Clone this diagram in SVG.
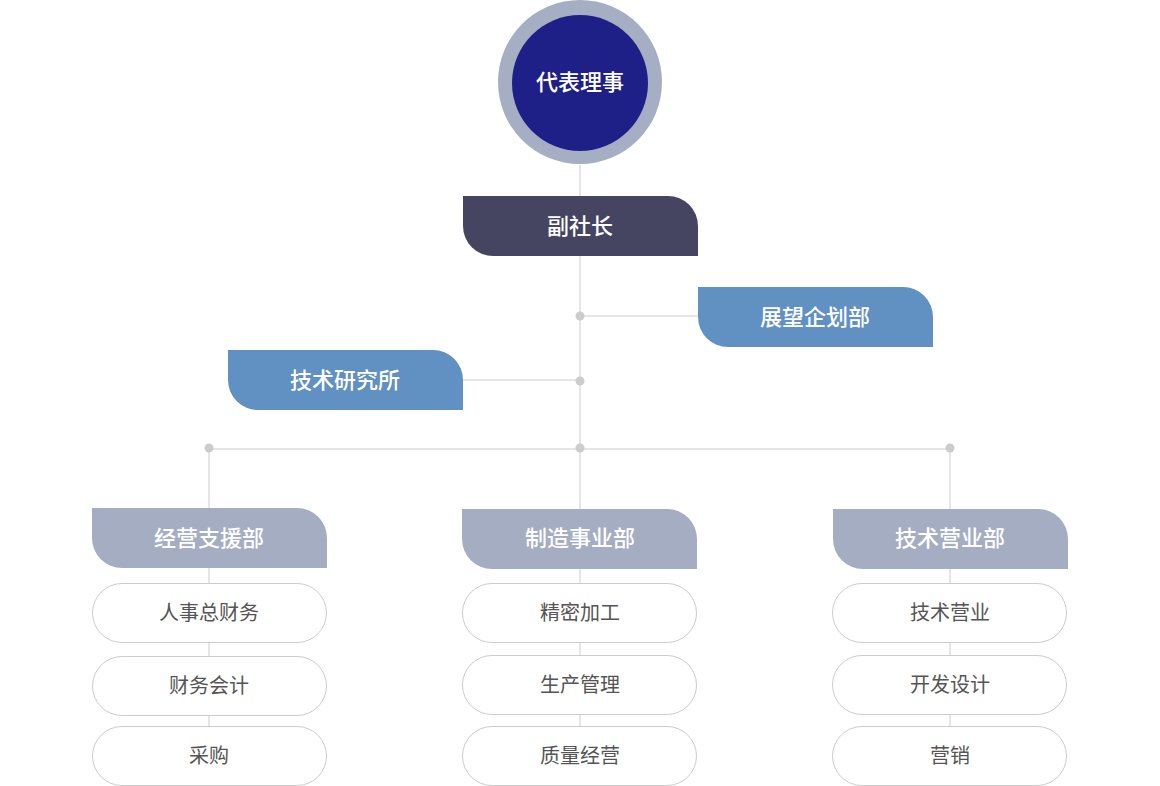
<svg xmlns="http://www.w3.org/2000/svg" width="1160" height="786" viewBox="0 0 1160 786">
<style>
text{font-family:"Noto Sans CJK SC","Noto Sans",sans-serif;text-anchor:middle;dominant-baseline:central}
.w{fill:#fff;font-size:22px;font-weight:500}
.g{fill:#555;font-size:20px}
.ln{stroke:#cccccc;stroke-width:1;fill:none}
.dot{fill:#cccccc}
.sub{fill:#fff;stroke:#cccccc;stroke-width:1}
</style>
<defs>
<path id="tab" d="M0,0 H205 A30,30 0 0 1 235,30 V60 H30 A30,30 0 0 1 0,30 Z"/>
</defs>
<g id="connectors">
<path class="ln" d="M580,165 V509 M580,316 H698 M463,380 H580 M209,449 H950 M209,449 V508 M950,449 V509"/>
<path class="ln" d="M209,568 V726 M580,568 V726 M950,568 V726"/>
<circle class="dot" cx="580" cy="316" r="4.5"/>
<circle class="dot" cx="580" cy="381" r="4.5"/>
<circle class="dot" cx="209" cy="448" r="4.5"/>
<circle class="dot" cx="580" cy="448" r="4.5"/>
<circle class="dot" cx="950" cy="448" r="4.5"/>
</g>
<g id="ceo">
<circle cx="580" cy="82" r="82" fill="#a5aec3"/>
<circle cx="580" cy="83" r="68" fill="#1e1f87"/>
<text class="w" x="580" y="80">代表理事</text>
</g>
<g id="vp">
<use href="#tab" x="463" y="196" fill="#454562"/>
<text class="w" x="580" y="224">副社长</text>
</g>
<g id="planning">
<use href="#tab" x="698" y="287" fill="#6190c2"/>
<text class="w" x="815" y="315">展望企划部</text>
</g>
<g id="research">
<use href="#tab" x="228" y="350" fill="#6190c2"/>
<text class="w" x="345" y="378">技术研究所</text>
</g>
<g id="dept-support">
<use href="#tab" x="92" y="508" fill="#a5adc2"/>
<text class="w" x="209" y="536">经营支援部</text>
</g>
<g id="dept-manufacturing">
<use href="#tab" x="462" y="509" fill="#a5adc2"/>
<text class="w" x="580" y="536">制造事业部</text>
</g>
<g id="dept-sales">
<use href="#tab" x="833" y="509" fill="#a5adc2"/>
<text class="w" x="950" y="536">技术营业部</text>
</g>
<g id="s1"><rect class="sub" x="92.5" y="583.5" width="234" height="59" rx="29.5"/><text class="g" x="209" y="611">人事总财务</text></g>
<g id="s2"><rect class="sub" x="92.5" y="656.5" width="234" height="59" rx="29.5"/><text class="g" x="209" y="684">财务会计</text></g>
<g id="s3"><rect class="sub" x="92.5" y="726.5" width="234" height="59" rx="29.5"/><text class="g" x="209" y="754">采购</text></g>
<g id="m1"><rect class="sub" x="462.5" y="583.5" width="234" height="59" rx="29.5"/><text class="g" x="580" y="611">精密加工</text></g>
<g id="m2"><rect class="sub" x="462.5" y="655.5" width="234" height="59" rx="29.5"/><text class="g" x="580" y="683">生产管理</text></g>
<g id="m3"><rect class="sub" x="462.5" y="726.5" width="234" height="59" rx="29.5"/><text class="g" x="580" y="754">质量经营</text></g>
<g id="t1"><rect class="sub" x="832.5" y="583.5" width="234" height="59" rx="29.5"/><text class="g" x="950" y="611">技术营业</text></g>
<g id="t2"><rect class="sub" x="832.5" y="655.5" width="234" height="59" rx="29.5"/><text class="g" x="950" y="683">开发设计</text></g>
<g id="t3"><rect class="sub" x="832.5" y="726.5" width="234" height="59" rx="29.5"/><text class="g" x="950" y="754">营销</text></g>
</svg>
